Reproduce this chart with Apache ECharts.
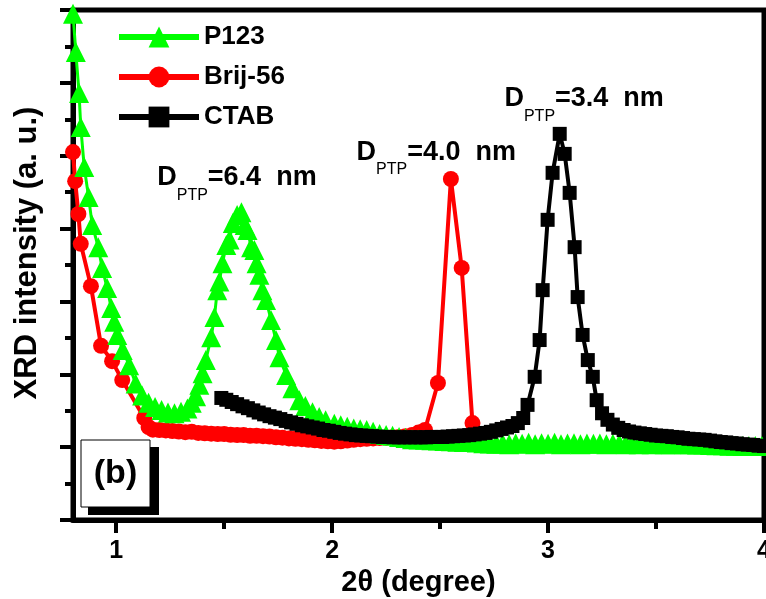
<!DOCTYPE html>
<html><head><meta charset="utf-8">
<script src="https://cdn.jsdelivr.net/npm/echarts@6/dist/echarts.min.js"></script>
<style>html,body{margin:0;padding:0;background:#fff}#c{width:766px;height:599px}</style>
</head><body><div id="c"></div>
<script>
// ---- data (2θ in degree, intensity in arbitrary units) ----
const p123X = [0.80,0.813,0.828,0.836,0.852,0.872,0.889,0.917,0.935,0.958,0.977,0.991,1.005,1.03,1.06,1.09,1.12,1.15,1.18,1.21,1.24,1.27,1.30,1.33,1.35,1.37,1.385,1.40,1.415,1.44,1.455,1.468,1.478,1.492,1.51,1.525,1.54,1.56,1.58,1.595,1.608,1.625,1.64,1.65,1.663,1.677,1.694,1.717,1.74,1.756,1.787,1.816,1.848,1.876,1.909,1.94,1.97,2.01,2.04,2.07,2.10,2.13,2.16,2.19,2.22,2.25,2.28,2.31,2.34,2.37,2.40,2.43,2.46,2.49,2.52,2.55,2.58,2.61,2.64,2.67,2.70,2.73,2.76,2.79,2.82,2.85,2.88,2.91,2.94,2.97,3.00,3.03,3.06,3.09,3.12,3.15,3.18,3.21,3.24,3.27,3.30,3.33,3.36,3.39,3.42,3.45,3.48,3.51,3.54,3.57,3.60,3.63,3.66,3.69,3.72,3.75,3.78,3.81,3.84,3.87,3.90,3.93,3.96,3.99];
const p123Y = [13.9,12.85,11.72,10.79,9.69,8.87,8.10,7.49,6.92,6.37,5.82,5.44,5.08,4.67,4.25,3.75,3.42,3.22,3.10,3.02,2.95,2.93,2.97,3.06,3.22,3.40,3.71,4.03,4.39,5.02,5.57,6.31,6.55,7.05,7.55,7.70,8.15,8.37,8.45,8.10,7.96,7.49,7.41,7.05,6.73,6.31,6.04,5.49,4.94,4.47,3.98,3.62,3.29,3.13,2.96,2.83,2.74,2.64,2.60,2.56,2.51,2.49,2.47,2.42,2.36,2.33,2.31,2.28,2.25,2.22,2.21,2.20,2.19,2.18,2.17,2.16,2.15,2.14,2.14,2.13,2.11,2.10,2.09,2.10,2.08,2.11,2.09,2.12,2.08,2.11,2.09,2.12,2.08,2.10,2.11,2.08,2.10,2.09,2.10,2.08,2.09,2.09,2.08,2.09,2.08,2.09,2.08,2.09,2.08,2.08,2.09,2.08,2.08,2.07,2.07,2.06,2.05,2.05,2.04,2.04,2.03,2.03,2.03,2.03];

const brijX = [0.80,0.81,0.825,0.836,0.883,0.93,0.981,1.028,1.13,1.15,1.17,1.20,1.23,1.26,1.29,1.32,1.35,1.38,1.41,1.44,1.47,1.50,1.53,1.56,1.59,1.62,1.65,1.68,1.71,1.74,1.77,1.80,1.83,1.86,1.89,1.92,1.95,1.98,2.01,2.04,2.07,2.10,2.13,2.16,2.19,2.22,2.25,2.28,2.31,2.34,2.37,2.40,2.43,2.49,2.55,2.60,2.65,2.70];
const brijY = [10.1,9.3,8.4,7.58,6.42,4.78,4.36,3.84,2.80,2.55,2.48,2.47,2.46,2.44,2.43,2.41,2.42,2.39,2.38,2.37,2.36,2.36,2.34,2.33,2.33,2.31,2.31,2.30,2.29,2.27,2.26,2.24,2.23,2.22,2.20,2.19,2.17,2.16,2.15,2.16,2.18,2.20,2.22,2.23,2.24,2.25,2.26,2.27,2.28,2.30,2.33,2.40,2.47,3.76,9.36,6.92,2.66,2.10];

const ctabX = [1.487,1.51,1.535,1.56,1.585,1.61,1.635,1.66,1.685,1.71,1.735,1.76,1.785,1.81,1.835,1.86,1.885,1.91,1.935,1.96,1.985,2.01,2.035,2.06,2.085,2.11,2.135,2.16,2.185,2.21,2.235,2.26,2.285,2.31,2.335,2.36,2.385,2.41,2.435,2.46,2.485,2.51,2.535,2.56,2.585,2.61,2.635,2.66,2.685,2.71,2.735,2.76,2.785,2.81,2.835,2.86,2.885,2.905,2.938,2.961,2.975,2.998,3.021,3.054,3.077,3.10,3.123,3.137,3.16,3.184,3.207,3.225,3.25,3.275,3.30,3.325,3.35,3.375,3.40,3.425,3.45,3.475,3.50,3.525,3.55,3.575,3.60,3.625,3.65,3.675,3.70,3.725,3.75,3.775,3.80,3.825,3.85,3.875,3.90,3.925,3.95,3.975,4.00];
const ctabY = [3.35,3.30,3.24,3.18,3.12,3.07,3.01,2.95,2.90,2.85,2.81,2.77,2.72,2.68,2.64,2.60,2.57,2.54,2.51,2.47,2.45,2.42,2.39,2.37,2.35,2.33,2.32,2.31,2.30,2.29,2.28,2.28,2.27,2.27,2.27,2.27,2.27,2.27,2.27,2.28,2.28,2.28,2.29,2.30,2.31,2.32,2.33,2.35,2.37,2.39,2.42,2.46,2.50,2.54,2.58,2.66,2.80,3.16,3.93,4.94,6.31,8.24,9.53,10.60,10.05,8.98,7.49,6.12,5.08,4.39,3.93,3.29,2.93,2.75,2.62,2.53,2.47,2.43,2.40,2.38,2.36,2.34,2.32,2.31,2.30,2.28,2.27,2.25,2.23,2.22,2.21,2.20,2.18,2.16,2.14,2.13,2.11,2.10,2.08,2.07,2.06,2.04,2.03];

const xMajorTicks = [1, 2, 3, 4];
const xMinorTicks = [1.5, 2.5, 3.5];
const xTickLabels = ['1', '2', '3', '4'];
const seriesNames = ['P123', 'Brij-56', 'CTAB'];
const annotX = [1.19, 2.113, 2.798];
const annotY = [9.39, 10.10, 11.58];
const annotValues = ['6.4', '4.0', '3.4'];
const panelLabel = '(b)';

// ---- chart ----
const FONT = '"Liberation Sans", Arial, sans-serif';
const zip = (xs, ys) => xs.map((x, i) => [x, ys[i]]);
const chart = echarts.init(document.getElementById('c'), null, {renderer: 'canvas'});

const baseText = {fontFamily: FONT, fontWeight: 'bold', color: '#000'};

chart.setOption({
  animation: false,
  backgroundColor: '#fff',
  grid: {left: 73, right: 2, top: 10, bottom: 79, show: true, borderColor: '#000', borderWidth: 5,
         containLabel: false, outerBoundsMode: 'none'},
  legend: {
    data: seriesNames, orient: 'vertical', left: 116, top: 24, padding: 0,
    itemWidth: 80, itemHeight: 26, itemGap: 14, selectedMode: false,
    lineStyle: {width: 6},
    textStyle: Object.assign({fontSize: 26}, baseText)
  },
  xAxis: [{
    type: 'value', min: 0.8, max: 4,
    axisLine: {lineStyle: {color: '#000', width: 5}},
    axisTick: {customValues: xMajorTicks, length: 13, lineStyle: {color: '#000', width: 4}},
    axisLabel: Object.assign({customValues: xMajorTicks, margin: 19, fontSize: 25,
      formatter: v => xTickLabels[xMajorTicks.indexOf(v)] ?? ''}, baseText),
    splitLine: {show: false},
    name: '2θ (degree)', nameLocation: 'middle', nameGap: 42,
    nameTextStyle: Object.assign({fontSize: 29}, baseText)
  }, {
    type: 'value', min: 0.8, max: 4, position: 'bottom',
    axisLine: {show: false},
    axisTick: {customValues: xMinorTicks, length: 9, lineStyle: {color: '#000', width: 4}},
    axisLabel: {show: false}, splitLine: {show: false}
  }],
  yAxis: {
    type: 'value', min: 0, max: 14, interval: 2,
    axisLine: {show: true, lineStyle: {color: '#000', width: 5}},
    axisTick: {show: true, length: 13, lineStyle: {color: '#000', width: 4}},
    minorTick: {show: true, splitNumber: 2, length: 8, lineStyle: {color: '#000', width: 4}},
    axisLabel: {show: false},
    splitLine: {show: false},
    name: 'XRD intensity (a. u.)', nameLocation: 'middle', nameGap: 30,
    nameTextStyle: Object.assign({fontSize: 31, padding: [0, 0, 0, 24]}, baseText)
  },
  series: [
    {name: 'Brij-56', type: 'line', data: zip(brijX, brijY), symbol: 'circle', symbolSize: 16,
     lineStyle: {color: '#ff0000', width: 4}, itemStyle: {color: '#ff0000'}, silent: true, z: 2},
    {name: 'P123', type: 'line', data: zip(p123X, p123Y), symbol: 'triangle', symbolSize: 20,
     lineStyle: {color: '#00ff00', width: 3}, itemStyle: {color: '#00ff00'}, silent: true, z: 3},
    {name: 'CTAB', type: 'line', data: zip(ctabX, ctabY), symbol: 'rect', symbolSize: 14,
     lineStyle: {color: '#000000', width: 4}, itemStyle: {color: '#000000'}, silent: true, z: 4}
  ]
});

// annotations and panel label
const graphics = annotValues.map((v, i) => {
  const p = chart.convertToPixel({gridIndex: 0}, [annotX[i], annotY[i]]);
  return {
    type: 'text', x: p[0], y: p[1], z: 100,
    style: {
      text: '{a|D}{s|PTP}{a|=' + v + '  nm}',
      align: 'left', verticalAlign: 'middle',
      rich: {
        a: {fontFamily: FONT, fontWeight: 'bold', fontSize: 27, lineHeight: 52, fill: '#000'},
        s: {fontFamily: FONT, fontWeight: 'normal', fontSize: 16, lineHeight: 14, verticalAlign: 'bottom', fill: '#000'}
      }
    }
  };
});
graphics.push(
  {type: 'rect', shape: {x: 88, y: 447, width: 71, height: 68}, style: {fill: '#000'}, z: 100},
  {type: 'rect', shape: {x: 81, y: 440, width: 69, height: 67}, style: {fill: '#fff', stroke: '#000', lineWidth: 1}, z: 101},
  {type: 'text', x: 115.5, y: 474, z: 102,
   style: {text: panelLabel, align: 'center', verticalAlign: 'middle', fontFamily: FONT, fontWeight: 'bold', fontSize: 34, fill: '#000'}}
);
chart.setOption({graphic: graphics});
</script>
</body></html>
